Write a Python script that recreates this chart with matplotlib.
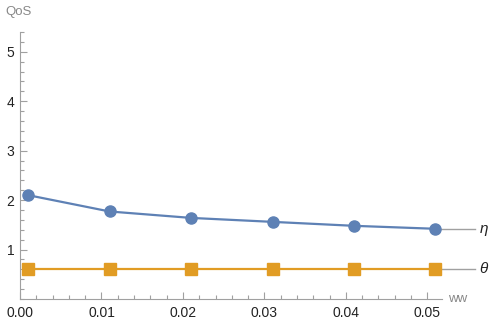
import matplotlib.pyplot as plt
from matplotlib.ticker import MultipleLocator, FormatStrFormatter

# dados
ww = [0.001, 0.011, 0.021, 0.031, 0.041, 0.051]
eta = [2.10, 1.77, 1.64, 1.56, 1.48, 1.42]
theta = [0.61, 0.61, 0.61, 0.61, 0.61, 0.61]
series_labels = ['η', 'θ']

blue = '#5E81B5'
orange = '#E19C24'
axis_gray = '#A0A0A0'

plt.rcParams['font.family'] = ['Liberation Sans', 'DejaVu Sans']

fig = plt.figure(figsize=(4.93, 3.23), dpi=100)
ax = fig.add_axes([20 / 493, 24 / 323, 422 / 493, 267 / 323])

ax.plot(ww, eta, color=blue, lw=1.6, marker='o', ms=8, zorder=3)
ax.plot(ww, theta, color=orange, lw=1.6, marker='s', ms=8, zorder=3)

xmax = 0.0518
ax.set_xlim(0.0, xmax)
ax.set_ylim(0, 5.4)

for s in ['top', 'right']:
    ax.spines[s].set_visible(False)
for s in ['left', 'bottom']:
    ax.spines[s].set_color(axis_gray)
    ax.spines[s].set_linewidth(0.8)

ax.xaxis.set_major_locator(MultipleLocator(0.01))
ax.xaxis.set_minor_locator(MultipleLocator(0.002))
ax.xaxis.set_major_formatter(FormatStrFormatter('%.2f'))
ax.set_yticks([1, 2, 3, 4, 5])
ax.yaxis.set_minor_locator(MultipleLocator(0.2))
ax.tick_params(which='both', direction='in', color=axis_gray, width=0.8,
               labelsize=10, labelcolor='#222222')
ax.tick_params(which='major', length=5)
ax.tick_params(which='minor', length=3)
ax.tick_params(axis='x', pad=5)
ax.tick_params(axis='y', pad=4)

# rótulos dos eixos
fig.text(5 / 493, 1 - 12 / 323, 'QoS', color='#888888', fontsize=9.5, va='center', ha='left')
fig.text(448 / 493, 1 - 299 / 323, 'ww', color='#888888', fontsize=9.5, va='center', ha='left')

# rótulos das curvas (linha cinza até o nome)
px = xmax / 422  # largura de um pixel em dados
line_end = ww[-1] + 40 * px
for vals, lab in zip([eta, theta], series_labels):
    ax.plot([ww[-1], line_end], [vals[-1], vals[-1]], color=axis_gray, lw=1,
            clip_on=False, zorder=1)
    ax.text(line_end + 4 * px, vals[-1], lab, fontsize=11, style='italic',
            va='center', ha='left', color='#222222')

fig.savefig('out.png', dpi=100)
